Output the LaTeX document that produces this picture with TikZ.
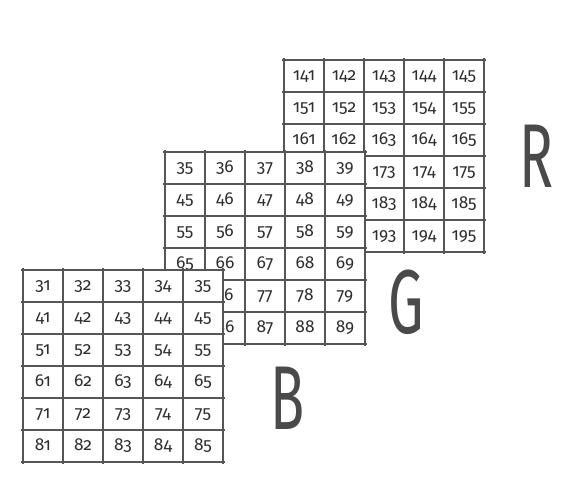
\documentclass[tikz,border=0pt]{standalone}
\usepackage{fontspec}
\setmainfont{Fira Sans}[Numbers=OldStyle]
\newfontfamily\letterfont{Fira Sans}

\definecolor{gridline}{HTML}{555555}
\definecolor{celltext}{HTML}{2E2E2E}
\definecolor{chanletter}{HTML}{4A4A4A}

\tikzset{
  cellnum/.style={anchor=base, text=celltext, inner sep=0pt,
    font=\fontsize{13}{13}\selectfont},
  gridrule/.style={draw=gridline, line width=1.1pt},
  chanlabel/.style={text=chanletter, inner sep=0pt, xscale=0.62,
    font=\letterfont\fontsize{68}{68}\selectfont},
}

% cells that lie fully under the plane in front
\newcommand{\hidecells}[1]{%
  \foreach \h in {#1} {\global\expandafter\let\csname hide@\h\endcsname\relax}}

% one colour plane: left, top, first row, first column, name
\newcommand{\channel}[5]{%
  \fill[white] (#1,#2) rectangle ++(200,192);
  \foreach \r in {0,...,5}
    \foreach \c in {0,...,4} {
      \pgfmathtruncatemacro{\val}{(#3+\r)*10+#4+\c}
      \ifcsname hide@#5-\r-\c\endcsname\else
        \node[cellnum] (#5-\r-\c) at (#1+20+40*\c, #2+20+32*\r) {\val};
      \fi
    }
  \foreach \r in {0,...,6}
    \draw[gridrule] (#1-2, #2+32*\r) -- (#1+202, #2+32*\r);
  \foreach \c in {0,...,5}
    \draw[gridrule] (#1+40*\c, #2-2) -- (#1+40*\c, #2+194);
}

\begin{document}
\begin{tikzpicture}[x=0.75pt,y=-0.75pt]
	\fill[white] (0,0) rectangle (580,494);
	\useasboundingbox (0,0) rectangle (580,494);

	\hidecells{R-3-0,R-3-1,R-4-0,R-4-1,R-5-0,R-5-1,G-4-0,G-5-0}

	\channel{284}{60}{14}{1}{R}
	\channel{165}{152}{3}{5}{G}
	\channel{23}{270}{3}{1}{B}

	\node[chanlabel] (R-label) at (536,156) {R};
	\node[chanlabel] (G-label) at (406,302) {G};
	\node[chanlabel] (B-label) at (288,398) {B};
\end{tikzpicture}
\end{document}
